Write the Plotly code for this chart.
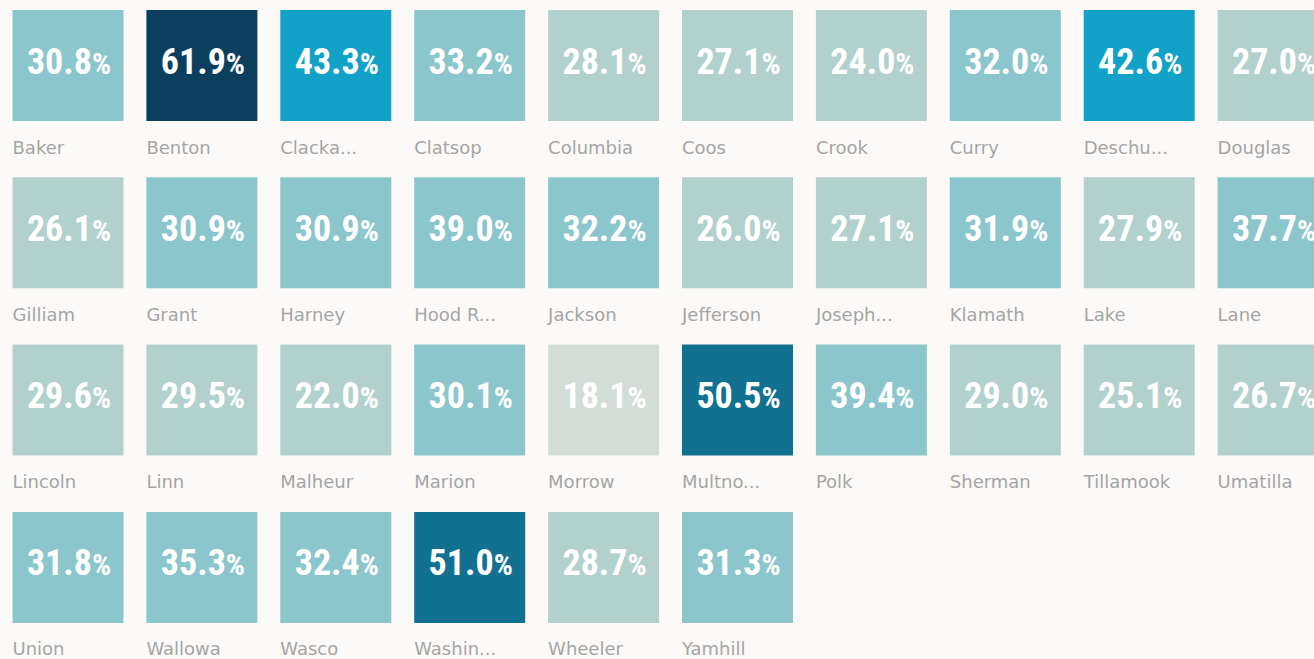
import plotly.graph_objects as go

counties = [
    "Baker", "Benton", "Clacka...", "Clatsop", "Columbia", "Coos", "Crook", "Curry", "Deschu...", "Douglas",
    "Gilliam", "Grant", "Harney", "Hood R...", "Jackson", "Jefferson", "Joseph...", "Klamath", "Lake", "Lane",
    "Lincoln", "Linn", "Malheur", "Marion", "Morrow", "Multno...", "Polk", "Sherman", "Tillamook", "Umatilla",
    "Union", "Wallowa", "Wasco", "Washin...", "Wheeler", "Yamhill",
]
values = [
    30.8, 61.9, 43.3, 33.2, 28.1, 27.1, 24.0, 32.0, 42.6, 27.0,
    26.1, 30.9, 30.9, 39.0, 32.2, 26.0, 27.1, 31.9, 27.9, 37.7,
    29.6, 29.5, 22.0, 30.1, 18.1, 50.5, 39.4, 29.0, 25.1, 26.7,
    31.8, 35.3, 32.4, 51.0, 28.7, 31.3,
]
bin_edges = [20, 30, 40, 50, 60]
bin_colors = ["#d3ddd8", "#b3d1cc", "#8cc6cd", "#13a2c7", "#127091", "#0c3f5e"]

W, H = 1314, 659
NCOL = 10
X0, Y0 = 12.5, 10
PX, PY = 133.9, 167.3
TW, TH = 111, 111
BG = "#fcfaf8"


def color_for(v):
    i = 0
    for e in bin_edges:
        if v >= e:
            i += 1
    return bin_colors[i]


shapes = []
vx, vy, vt = [], [], []
lx, ly = [], []
for i, (name, v) in enumerate(zip(counties, values)):
    c, r = i % NCOL, i // NCOL
    x = X0 + c * PX
    y = Y0 + r * PY
    shapes.append(dict(type="rect", xref="x", yref="y", x0=x, x1=x + TW, y0=y, y1=y + TH,
                       fillcolor=color_for(v), line=dict(width=0), layer="below"))
    vx.append(x + TW / 2 + 1)
    vy.append(y + TH / 2 - 1)
    vt.append(f"{v:.1f}<span style='font-size:30px'>%</span>")
    lx.append(x)
    ly.append(y + TH + 28)

fig = go.Figure()
fig.add_trace(go.Scatter(
    x=vx, y=vy, text=vt, mode="text", textposition="middle center",
    textfont=dict(family="Roboto Condensed, Liberation Sans Narrow, DejaVu Sans Condensed, sans-serif",
                  size=36, color="white", weight="bold"),
    hoverinfo="skip", showlegend=False, cliponaxis=True,
))
fig.add_trace(go.Scatter(
    x=lx, y=ly, text=counties, mode="text", textposition="middle right",
    textfont=dict(family="DejaVu Sans, sans-serif", size=18, color="#a5a5a5"),
    hoverinfo="skip", showlegend=False, cliponaxis=True,
))
fig.update_layout(
    width=W, height=H, margin=dict(l=0, r=0, t=0, b=0),
    paper_bgcolor=BG, plot_bgcolor=BG, shapes=shapes,
    xaxis=dict(range=[0, W], visible=False, fixedrange=True),
    yaxis=dict(range=[H, 0], visible=False, fixedrange=True),
)
fig.write_html("out.html", config={"displayModeBar": False},
               post_script="document.body.style.margin='0';document.body.style.overflow='hidden';"
                           "document.body.style.background='%s';" % BG)
